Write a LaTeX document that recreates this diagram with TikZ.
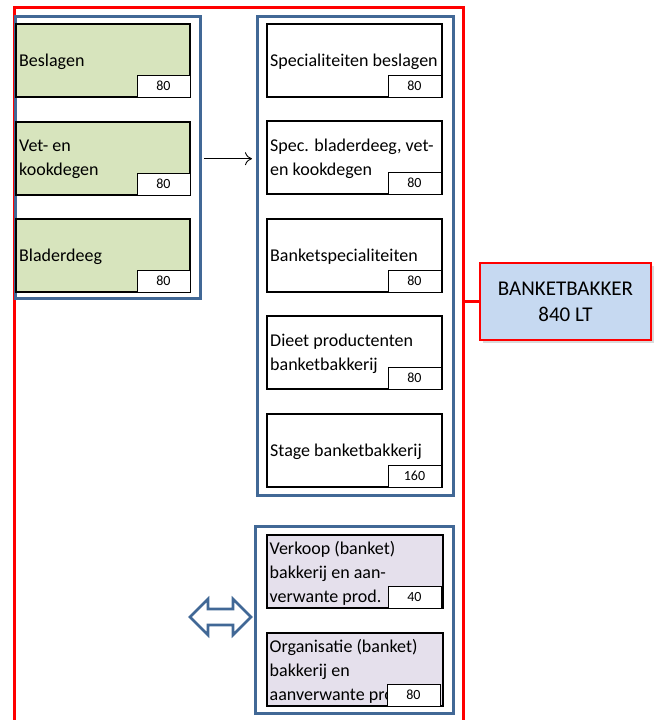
\documentclass[tikz,border=0pt]{standalone}
\usepackage{fontspec}
\setmainfont{Carlito}
\usetikzlibrary{shadows,calc,arrows.meta}
\definecolor{grpblue}{RGB}{65,104,150}
\definecolor{gfill}{RGB}{215,228,189}
\definecolor{pfill}{RGB}{229,224,236}
\definecolor{bkfill}{RGB}{198,217,241}
\begin{document}
\begin{tikzpicture}[x=1pt,y=-1pt,
  grp/.style={draw=grpblue, line width=3pt, anchor=north west, inner sep=0pt},
  card/.style={draw=black, line width=2.4pt, anchor=north west, inner sep=0pt, minimum height=73pt},
  gcard/.style={card, fill=gfill, minimum width=174pt},
  wcard/.style={card, fill=white, minimum width=175pt},
  pcard/.style={card, fill=pfill, minimum width=176pt},
  numbox/.style={draw=black, line width=0.9pt, fill=white, minimum width=53pt, minimum height=22pt,
    anchor=south east, inner sep=0pt, font=\fontsize{14}{15}\selectfont,
    drop shadow={shadow xshift=1pt, shadow yshift=-1pt, opacity=0.35}},
  lbl/.style={anchor=west, align=left, inner sep=0pt, font=\fontsize{18}{24}\selectfont},
  redline/.style={draw=red, line width=2.6pt}
]
\useasboundingbox (0,0) rectangle (662,720);

% red frame
\node[redline, anchor=north west, minimum width=449pt, minimum height=740pt, inner sep=0pt] (rf) at (13,6) {};

% left group
\node[grp, minimum width=185pt, minimum height=282pt] (lg) at (14,15) {};
\node[gcard] (g1) at (15,23) {};
\node[gcard] (g2) at (15,121) {};
\node[gcard] (g3) at (15,218) {};
\node[lbl] (g1t) at ([xshift=4pt,yshift=-1pt]g1.west) {Beslagen};
\node[lbl] (g2t) at ([xshift=4pt,yshift=-1pt]g2.west) {Vet- en\\kookdegen};
\node[lbl] (g3t) at ([xshift=4pt,yshift=-1pt]g3.west) {Bladerdeeg};
\node[numbox] (g1n) at ([shift={(-1,-1)}]g1.south east) {80};
\node[numbox] (g2n) at ([shift={(-1,-1)}]g2.south east) {80};
\node[numbox] (g3n) at ([shift={(-1,-1)}]g3.south east) {80};

% right group
\node[grp, minimum width=196pt, minimum height=479pt] (rg) at (256,15) {};
\node[wcard] (w1) at (266,23) {};
\node[wcard] (w2) at (266,120) {};
\node[wcard] (w3) at (266,218) {};
\node[wcard] (w4) at (266,315) {};
\node[wcard] (w5) at (266,413) {};
\node[lbl] (w1t) at ([xshift=4pt,yshift=-1pt]w1.west) {Specialiteiten beslagen};
\node[lbl] (w2t) at ([xshift=4pt,yshift=-1pt]w2.west) {Spec. bladerdeeg, vet-\\en kookdegen};
\node[lbl] (w3t) at ([xshift=4pt,yshift=-1pt]w3.west) {Banketspecialiteiten};
\node[lbl] (w4t) at ([xshift=4pt,yshift=-1pt]w4.west) {Dieet productenten\\banketbakkerij};
\node[lbl] (w5t) at ([xshift=4pt,yshift=-1pt]w5.west) {Stage banketbakkerij};
\node[numbox] (w1n) at ([shift={(-2,-1)}]w1.south east) {80};
\node[numbox] (w2n) at ([shift={(-2,-1)}]w2.south east) {80};
\node[numbox] (w3n) at ([shift={(-2,-1)}]w3.south east) {80};
\node[numbox] (w4n) at ([shift={(-2,-1)}]w4.south east) {80};
\node[numbox] (w5n) at ([shift={(-2,-1)}]w5.south east) {160};

% bottom group
\node[grp, minimum width=198pt, minimum height=187pt] (bg) at (254,525) {};
\node[pcard] (p1) at (266,534) {};
\node[pcard] (p2) at (266,632) {};
\node[lbl] (p1t) at ([xshift=3.5pt,yshift=-1.5pt]p1.west) {Verkoop (banket)\\bakkerij en aan-\\verwante prod.};
\node[lbl] (p2t) at ([xshift=3.5pt,yshift=-1.5pt]p2.west) {Organisatie (banket)\\bakkerij en\\aanverwante prod.};
\node[numbox] (p1n) at ([shift={(-3,-1)}]p1.south east) {40};
\node[numbox] (p2n) at ([shift={(-4,-1)}]p2.south east) {80};

% arrows
\draw[-{To[length=7pt,width=13pt]}, line width=0.9pt]
  ([xshift=2pt]lg.east |- g2.east) -- ([xshift=-4pt]rg.west |- g2.east);
\draw[draw=grpblue, line width=2.6pt, fill=white, line join=miter]
  (190,617) -- (208,599) -- (208,609) -- (233,609) -- (233,599) -- (251,617)
  -- (233,635) -- (233,625) -- (208,625) -- (208,635) -- cycle;

% Banketbakker
\node[draw=red, line width=2.6pt, fill=bkfill, minimum width=171pt, minimum height=77pt,
  align=center, font=\fontsize{21}{26}\selectfont,
  drop shadow={shadow xshift=3pt, shadow yshift=-3pt, opacity=0.3}] (bk) at (565.5,301.5)
  {BANKETBAKKER\\840 LT};
\draw[redline] (bk.west) -- (bk.west -| rf.east);
\end{tikzpicture}
\end{document}
